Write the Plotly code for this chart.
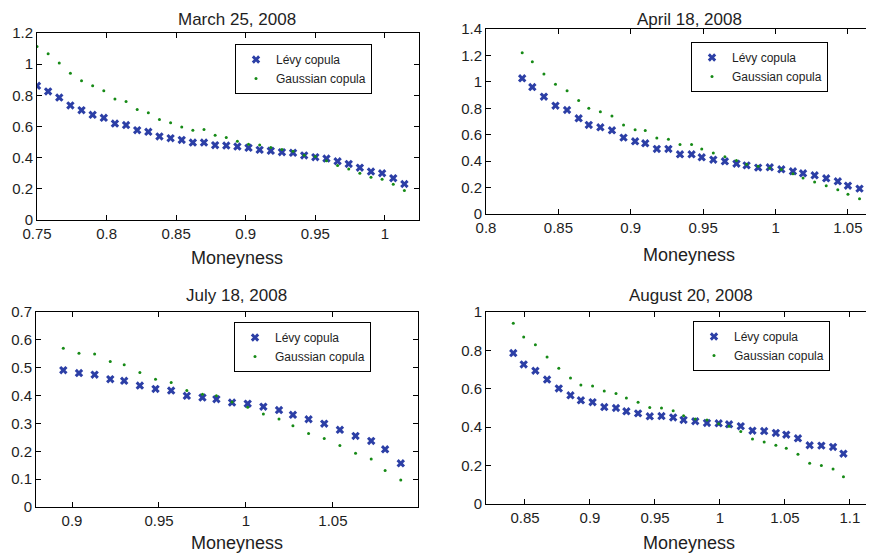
import plotly.graph_objects as go

# ---- data ----
march_x = [0.750, 0.758, 0.766, 0.774, 0.782, 0.790, 0.798, 0.806, 0.814, 0.822,
           0.830, 0.838, 0.846, 0.854, 0.862, 0.870, 0.878, 0.886, 0.894, 0.902,
           0.910, 0.918, 0.926, 0.934, 0.942, 0.950, 0.958, 0.966, 0.974, 0.982,
           0.990, 0.998, 1.006, 1.014]
march_levy = [0.861, 0.825, 0.786, 0.735, 0.705, 0.675, 0.656, 0.619, 0.609, 0.576,
              0.566, 0.536, 0.525, 0.514, 0.497, 0.497, 0.480, 0.478, 0.471, 0.463,
              0.450, 0.444, 0.435, 0.431, 0.414, 0.403, 0.394, 0.377, 0.360, 0.336,
              0.311, 0.300, 0.268, 0.231]
march_gauss = [1.114, 1.067, 1.007, 0.941, 0.894, 0.861, 0.829, 0.776, 0.761, 0.709,
               0.688, 0.645, 0.624, 0.596, 0.576, 0.581, 0.544, 0.529, 0.506, 0.486,
               0.482, 0.465, 0.452, 0.441, 0.416, 0.407, 0.381, 0.349, 0.328, 0.300,
               0.274, 0.261, 0.229, 0.189]

april_x = [0.825, 0.832, 0.840, 0.848, 0.856, 0.864, 0.871, 0.879, 0.887, 0.895,
           0.903, 0.910, 0.918, 0.926, 0.934, 0.942, 0.949, 0.957, 0.965, 0.973,
           0.980, 0.988, 0.996, 1.004, 1.012, 1.019, 1.027, 1.035, 1.043, 1.050,
           1.058]
april_levy = [1.027, 0.961, 0.888, 0.820, 0.787, 0.724, 0.674, 0.656, 0.633, 0.578,
              0.550, 0.535, 0.492, 0.492, 0.452, 0.452, 0.429, 0.411, 0.399, 0.381,
              0.368, 0.351, 0.353, 0.338, 0.323, 0.308, 0.293, 0.270, 0.247, 0.214,
              0.192]
april_gauss = [1.221, 1.153, 1.060, 0.981, 0.933, 0.858, 0.800, 0.774, 0.742, 0.674,
               0.638, 0.631, 0.575, 0.565, 0.525, 0.525, 0.492, 0.462, 0.434, 0.404,
               0.376, 0.361, 0.348, 0.336, 0.305, 0.272, 0.242, 0.214, 0.184, 0.149,
               0.116]

july_x = [0.895, 0.904, 0.913, 0.922, 0.930, 0.939, 0.948, 0.957, 0.966, 0.975,
          0.983, 0.992, 1.001, 1.010, 1.019, 1.027, 1.036, 1.045, 1.054, 1.063,
          1.072, 1.080, 1.089]
july_levy = [0.491, 0.481, 0.475, 0.459, 0.453, 0.436, 0.424, 0.418, 0.399, 0.393,
             0.387, 0.375, 0.371, 0.360, 0.348, 0.331, 0.315, 0.299, 0.277, 0.255,
             0.237, 0.207, 0.157]
july_gauss = [0.570, 0.552, 0.549, 0.522, 0.511, 0.483, 0.459, 0.447, 0.418, 0.405,
              0.399, 0.377, 0.358, 0.334, 0.316, 0.292, 0.264, 0.246, 0.221, 0.193,
              0.172, 0.131, 0.097]

august_x = [0.841, 0.849, 0.858, 0.867, 0.876, 0.885, 0.893, 0.902, 0.911, 0.920,
            0.928, 0.937, 0.946, 0.955, 0.964, 0.972, 0.981, 0.990, 0.999, 1.007,
            1.016, 1.025, 1.034, 1.043, 1.051, 1.060, 1.069, 1.078, 1.087, 1.095]
august_levy = [0.786, 0.727, 0.694, 0.648, 0.602, 0.566, 0.540, 0.530, 0.505, 0.500,
               0.483, 0.472, 0.457, 0.458, 0.451, 0.438, 0.431, 0.422, 0.420, 0.415,
               0.405, 0.382, 0.380, 0.370, 0.361, 0.342, 0.306, 0.304, 0.297, 0.262]
august_gauss = [0.941, 0.870, 0.830, 0.766, 0.707, 0.656, 0.620, 0.615, 0.589, 0.575,
                0.552, 0.530, 0.503, 0.500, 0.486, 0.460, 0.443, 0.438, 0.418, 0.405,
                0.377, 0.339, 0.323, 0.306, 0.290, 0.259, 0.212, 0.200, 0.182, 0.142]

titles = ['March 25, 2008', 'April 18, 2008', 'July 18, 2008', 'August 20, 2008']

# the page body has an 8px margin, so the figure is 8px smaller than the window
# and every screen position below is shifted by OFF
OFF = 8
W, H = 874 - OFF, 555 - OFF
FONT = 'Liberation Sans, Arial, Helvetica, sans-serif'
BLUE = '#2c3fa6'
GREEN = '#168a16'
TXT = '#1e1e1e'


def px(x):
    return (x - OFF) / W


def py(y):
    return 1 - (y - OFF) / H


# screen boxes of each axes: (left, right, top, bottom), x range, y range, ticks
# tc = title centre (None -> pinned to the top of the figure)
panels = [
    dict(x=march_x, levy=march_levy, gauss=march_gauss, box=(37, 419, 33, 220),
         xr=[0.75, 1.0245], yr=[0, 1.2], xt=[0.75, 0.8, 0.85, 0.9, 0.95, 1.0],
         yt=[0, 0.2, 0.4, 0.6, 0.8, 1.0, 1.2], leg=(372, 44), tc=(237, None), xl=(237, 258),
         right_edge=False),
    dict(x=april_x, levy=april_levy, gauss=april_gauss, box=(486, 874, 29, 214),
         xr=[0.8, 1.068], yr=[0, 1.4], xt=[0.8, 0.85, 0.9, 0.95, 1.0, 1.05],
         yt=[0, 0.2, 0.4, 0.6, 0.8, 1.0, 1.2, 1.4], leg=(828, 42), tc=(689, None), xl=(689, 255),
         right_edge=True),
    dict(x=july_x, levy=july_levy, gauss=july_gauss, box=(36, 418, 312, 507),
         xr=[0.8793, 1.0989], yr=[0, 0.7], xt=[0.9, 0.95, 1.0, 1.05, 1.1],
         yt=[0, 0.1, 0.2, 0.3, 0.4, 0.5, 0.6, 0.7], leg=(371, 322), tc=(236, 295), xl=(237, 543),
         right_edge=False),
    dict(x=august_x, levy=august_levy, gauss=august_gauss, box=(486, 874, 312, 504),
         xr=[0.82, 1.1185], yr=[0, 1.0], xt=[0.85, 0.9, 0.95, 1.0, 1.05, 1.1],
         yt=[0, 0.2, 0.4, 0.6, 0.8, 1.0], leg=(830, 321), tc=(691, 295), xl=(689, 543),
         right_edge=True),
]

fig = go.Figure()
layout = {}
annotations = []

for i, p in enumerate(panels):
    n = i + 1
    sfx = '' if n == 1 else str(n)
    leg = 'legend' if n == 1 else f'legend{n}'
    l, r, t, b = p['box']
    fig.add_trace(go.Scatter(
        x=p['x'], y=p['levy'], mode='markers', name='Lévy copula',
        marker=dict(symbol='x', size=7.5, color=BLUE, line=dict(width=0)),
        xaxis=f'x{sfx}', yaxis=f'y{sfx}', legend=leg))
    fig.add_trace(go.Scatter(
        x=p['x'], y=p['gauss'], mode='markers', name='Gaussian copula',
        marker=dict(symbol='circle', size=3, color=GREEN),
        xaxis=f'x{sfx}', yaxis=f'y{sfx}', legend=leg))

    layout[f'xaxis{sfx}'] = dict(
        domain=[px(l), min(px(r), 1.0)], range=p['xr'], anchor=f'y{sfx}', automargin=False,
        tickvals=p['xt'], ticks='inside', ticklen=5, tickcolor='black',
        showline=True, linecolor='black', linewidth=1, mirror='ticks',
        showgrid=False, zeroline=False, tickfont=dict(size=15, color=TXT))
    layout[f'yaxis{sfx}'] = dict(
        domain=[py(b), py(t)], range=p['yr'], anchor=f'x{sfx}', automargin=False,
        tickvals=p['yt'], ticks='inside', ticklen=5, tickcolor='black',
        showline=True, linecolor='black', linewidth=1,
        mirror=False if p['right_edge'] else 'ticks',
        showgrid=False, zeroline=False, tickfont=dict(size=15, color=TXT))
    layout[leg] = dict(
        x=px(p['leg'][0]), y=py(p['leg'][1]), xanchor='right', yanchor='top',
        bgcolor='white', bordercolor='black', borderwidth=1,
        font=dict(size=12, color=TXT, family=FONT), tracegroupgap=0)

    tx, ty = p['tc']
    annotations.append(dict(
        text=titles[i], x=px(tx), y=1.0 if ty is None else py(ty),
        xref='paper', yref='paper', xanchor='center',
        yanchor='top' if ty is None else 'middle', showarrow=False,
        font=dict(size=17, color=TXT, family=FONT)))
    annotations.append(dict(
        text='Moneyness', x=px(p['xl'][0]), y=py(p['xl'][1]), xref='paper', yref='paper',
        xanchor='center', yanchor='middle', showarrow=False,
        font=dict(size=18, color=TXT, family=FONT)))

fig.update_layout(
    template='none',
    width=W, height=H, margin=dict(l=0, r=0, t=0, b=0),
    paper_bgcolor='white', plot_bgcolor='white',
    font=dict(family=FONT, color=TXT),
    annotations=annotations, **layout)

fig.write_html("out.html")
